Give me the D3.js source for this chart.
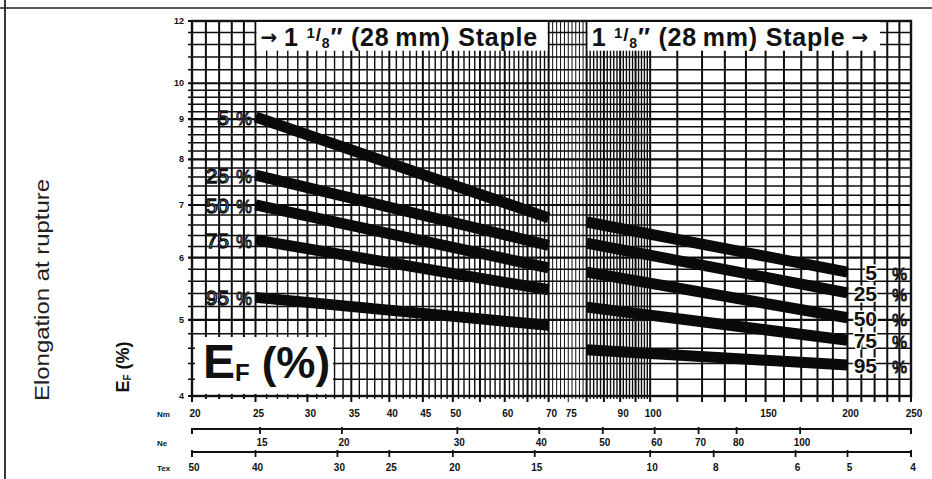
<!DOCTYPE html>
<html>
<head>
<meta charset="utf-8">
<script src="https://cdn.jsdelivr.net/npm/d3@7"></script>
<style>
body { margin: 0; background: #fff; }
svg { display: block; }
text { font-family: "Liberation Sans", Arial, sans-serif; }
</style>
</head>
<body>
<script>
const width = 932;
const height = 479;

// x axis labels, three count systems
const nmTicks = [20, 25, 30, 35, 40, 45, 50, 60, 70, 75, 90, 100, 150, 200, 250];
const neTicks = [15, 20, 30, 40, 50, 60, 70, 80, 100];
const texTicks = [50, 40, 30, 25, 20, 15, 10, 8, 6, 5, 4];
const yTicks = [4, 5, 6, 7, 8, 9, 10, 12];

const percentiles = ["5", "25", "50", "75", "95"];

// elongation bands, 1 1/8" staple: left block and right block
const leftNm = [25, 70];
const leftE = [[9.06, 6.74], [7.64, 6.22], [7.0, 5.82], [6.32, 5.46], [5.34, 4.92]];
const rightNm = [80, 200];
const rightE = [[6.66, 5.75], [6.26, 5.41], [5.75, 5.03], [5.19, 4.71], [4.58, 4.38]];

const x = d3.scaleLog().domain([20, 250]).range([192, 911]);
const y = d3.scaleLog().domain([4, 12]).range([396, 21]);

const neToNm = ne => ne * 1.6934;
const texToNm = tex => 1000 / tex;

const svg = d3.select("body")
	.append("svg")
	.attr("width", width)
	.attr("height", height);

// page border from the scan
svg.append("line").attr("x1", 0).attr("x2", width).attr("y1", 8).attr("y2", 8)
	.attr("stroke", "#222").attr("stroke-width", 1.5);
svg.append("line").attr("x1", 5).attr("x2", 5).attr("y1", 0).attr("y2", height)
	.attr("stroke", "#222").attr("stroke-width", 1.8);

// grid
const vGrid = d3.range(20, 100).concat(d3.range(100, 251, 10));
const hGrid = d3.range(20, 50).map(d => d / 5).concat([10, 10.4, 10.8, 11.2, 11.6, 12]);

const grid = svg.append("g").attr("stroke", "#0d0d0d");

grid.selectAll(".h")
	.data(hGrid)
	.enter()
	.append("line")
	.attr("x1", 188)
	.attr("x2", x(250))
	.attr("y1", d => y(d))
	.attr("y2", d => y(d))
	.attr("stroke-width", d => Math.abs(d - Math.round(d)) < 1e-6 ? 2.2 : 1.5);

grid.selectAll(".v")
	.data(vGrid)
	.enter()
	.append("line")
	.attr("x1", d => x(d))
	.attr("x2", d => x(d))
	.attr("y1", y(12))
	.attr("y2", d => y(4) + (d % 5 === 0 ? 6 : 3))
	.attr("stroke-width", d => {
		if (d >= 100 || d <= 25) return 2;
		if (d > 70 && d < 80) return 1;
		return d % 5 === 0 ? 2 : 1.4;
	});

// frame
svg.append("rect")
	.attr("x", x(20))
	.attr("y", y(12))
	.attr("width", x(250) - x(20))
	.attr("height", y(4) - y(12))
	.attr("fill", "none")
	.attr("stroke", "#111")
	.attr("stroke-width", 2.4);

// header boxes
const header = [
	{ from: 25, to: 70, arrowFirst: true },
	{ from: 80, to: 225, arrowFirst: false }
];

header.forEach(h => {
	svg.append("rect")
		.attr("x", x(h.from) + 1)
		.attr("y", y(12) + 1)
		.attr("width", x(h.to) - x(h.from) - 2)
		.attr("height", y(11) - y(12) - 1)
		.attr("fill", "#fff");

	const t = svg.append("text")
		.attr("x", x(h.from) + 5)
		.attr("y", y(12) + 25)
		.attr("font-size", 25)
		.attr("font-weight", "bold")
		.attr("letter-spacing", 0.8)
		.attr("fill", "#111");
	if (h.arrowFirst) t.append("tspan").attr("font-family", "DejaVu Sans").attr("font-size", 20).attr("dy", -2).text("\u2192");
	t.append("tspan").attr("dy", h.arrowFirst ? 2 : 0).attr("dx", h.arrowFirst ? 6 : 0).text("1 ");
	t.append("tspan").attr("font-size", 15).attr("dy", -8).text("1");
	t.append("tspan").attr("font-size", 19).attr("dy", 3).text("/");
	t.append("tspan").attr("font-size", 14).attr("dy", 7).text("8");
	t.append("tspan").attr("dy", -2).text("\u2033 (28\u2009mm) Staple");
	if (!h.arrowFirst) t.append("tspan").attr("font-family", "DejaVu Sans").attr("font-size", 20).attr("dx", 6).attr("dy", -2).text("\u2192");
});

// big E_F label box
svg.append("rect")
	.attr("x", 195)
	.attr("y", 337)
	.attr("width", 138)
	.attr("height", 57)
	.attr("fill", "#fff");

const ef = svg.append("text")
	.attr("x", 203)
	.attr("y", 378)
	.attr("font-weight", "bold")
	.attr("fill", "#111");
ef.append("tspan").attr("font-size", 48).text("E");
ef.append("tspan").attr("font-size", 24).attr("dy", 3).text("F");
ef.append("tspan").attr("font-size", 44).attr("dy", -3).attr("dx", 12).text("(%)");

// bands
const line = d3.line()
	.x(d => x(d[0]))
	.y(d => y(d[1]));

const bands = svg.append("g")
	.attr("fill", "none")
	.attr("stroke", "#0a0a0a")
	.attr("stroke-width", 11);

bands.selectAll(".left")
	.data(leftE)
	.enter()
	.append("path")
	.attr("d", vals => line(leftNm.map((n, i) => [n, vals[i]])));

bands.selectAll(".right")
	.data(rightE)
	.enter()
	.append("path")
	.attr("d", vals => line(rightNm.map((n, i) => [n, vals[i]])));

// percent labels, left side (outlined)
const leftLab = svg.append("g")
	.attr("font-size", 21)
	.attr("fill", "#fff")
	.attr("stroke", "#111")
	.attr("stroke-width", 1.4);

percentiles.forEach((p, i) => {
	const yy = y(leftE[i][0]) + 8;
	leftLab.append("text")
		.attr("x", 229)
		.attr("y", yy)
		.attr("text-anchor", "end")
		.text(p);
	leftLab.append("text")
		.attr("x", 236)
		.attr("y", yy)
		.attr("font-size", 18)
		.attr("stroke-width", 1)
		.text("%");
});

// percent labels, right side
percentiles.forEach((p, i) => {
	const yy = y(rightE[i][1]) + 8;
	svg.append("text")
		.attr("x", 877)
		.attr("y", yy)
		.attr("text-anchor", "end")
		.attr("font-size", 21)
		.attr("font-weight", "bold")
		.attr("fill", "#111")
		.attr("stroke", "#fff")
		.attr("stroke-width", 3)
		.attr("paint-order", "stroke")
		.text(p);
	svg.append("text")
		.attr("x", 892)
		.attr("y", yy)
		.attr("font-size", 17)
		.attr("fill", "#fff")
		.attr("stroke", "#111")
		.attr("stroke-width", 1)
		.text("%");
});

// y tick labels
svg.selectAll(".ylab")
	.data(yTicks)
	.enter()
	.append("text")
	.attr("x", 184)
	.attr("y", d => y(d) + 3)
	.attr("text-anchor", "end")
	.attr("font-size", 9)
	.attr("font-weight", "bold")
	.attr("fill", "#111")
	.text(d => d);

// Nm labels
svg.selectAll(".nm")
	.data(nmTicks)
	.enter()
	.append("text")
	.attr("x", d => x(d) + 3)
	.attr("y", 417)
	.attr("text-anchor", "middle")
	.attr("font-size", 10)
	.attr("font-weight", "bold")
	.attr("fill", "#111")
	.text(d => d);

// Ne and Tex scales
const subAxes = [
	{ name: "Ne", ticks: neTicks, conv: neToNm, lineY: 429, labY: 446 },
	{ name: "Tex", ticks: texTicks, conv: texToNm, lineY: 452, labY: 471 }
];

subAxes.forEach(a => {
	const g = svg.append("g");
	g.append("line")
		.attr("x1", x(20)).attr("x2", x(250))
		.attr("y1", a.lineY).attr("y2", a.lineY)
		.attr("stroke", "#111").attr("stroke-width", 2);
	g.selectAll("line.end")
		.data([20, 250])
		.enter()
		.append("line")
		.attr("x1", d => x(d)).attr("x2", d => x(d))
		.attr("y1", a.lineY - 1).attr("y2", a.lineY + 5)
		.attr("stroke", "#111").attr("stroke-width", 2);
	g.selectAll("line.tick")
		.data(a.ticks)
		.enter()
		.append("line")
		.attr("x1", d => x(a.conv(d))).attr("x2", d => x(a.conv(d)))
		.attr("y1", a.lineY - 2).attr("y2", a.lineY + 5)
		.attr("stroke", "#111").attr("stroke-width", 1.8);
	g.selectAll("text.lab")
		.data(a.ticks)
		.enter()
		.append("text")
		.attr("x", d => x(a.conv(d)) + 2)
		.attr("y", a.labY)
		.attr("text-anchor", "middle")
		.attr("font-size", 10)
		.attr("font-weight", "bold")
		.attr("fill", "#111")
		.text(d => d);
	svg.append("text")
		.attr("x", 157)
		.attr("y", a.labY)
		.attr("font-size", 8)
		.attr("font-weight", "bold")
		.attr("fill", "#111")
		.text(a.name);
});

svg.append("text")
	.attr("x", 157)
	.attr("y", 417)
	.attr("font-size", 8)
	.attr("font-weight", "bold")
	.attr("fill", "#111")
	.text("Nm");

// y axis titles
svg.append("text")
	.attr("transform", "translate(49,290) rotate(-90)")
	.attr("text-anchor", "middle")
	.attr("font-size", 20)
	.attr("textLength", 222)
	.attr("lengthAdjust", "spacingAndGlyphs")
	.attr("fill", "#222")
	.text("Elongation at rupture");

const yt = svg.append("text")
	.attr("transform", "translate(129,367) rotate(-90)")
	.attr("text-anchor", "middle")
	.attr("font-size", 18)
	.attr("font-weight", "bold")
	.attr("fill", "#111");
yt.append("tspan").text("E");
yt.append("tspan").attr("font-size", 10).attr("dy", 2).text("F");
yt.append("tspan").attr("dy", -2).text(" (%)");
</script>
</body>
</html>
